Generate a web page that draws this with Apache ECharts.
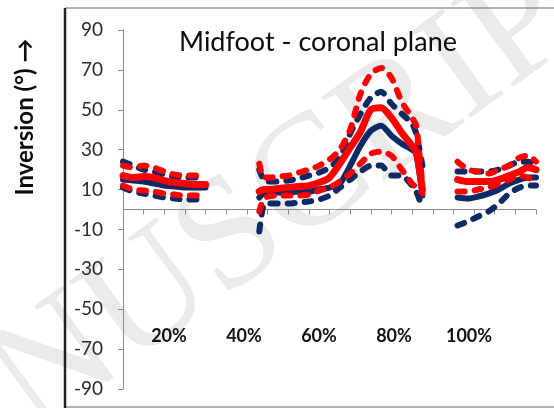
<!DOCTYPE html>
<html>
<head>
<meta charset="utf-8">
<script src="https://cdn.jsdelivr.net/npm/echarts@6/dist/echarts.min.js"></script>
<style>
  html, body { margin: 0; padding: 0; background: #fff; }
  #chart { width: 554px; height: 408px; }
</style>
</head>
<body>
<div id="chart"></div>
<script>
// % of stance, null = no data (gap between segments)
const pct = [0, 2.5, 5, 7.5, 10, 12.5, 15, 17.5, 20, 26,
  33, 34, 35, 37.5, 40, 42.5, 45, 47.5, 50, 52.5, 55, 57.5, 60, 62.5, 65, 67.5, 70, 71, 72.5, 77,
  81, 83.5, 86, 88.5, 91, 93.5, 96, 98, 100];

const blueMean = [15, 14.5, 14, 13, 12, 11.5, 11, 11, 11, null,
  6, 8, 8.5, 8.5, 8.5, 9, 9, 10, 11, 13, 22, 32, 39.5, 42, 37, 33, 30, 28, 7, null,
  6, 5.5, 6.5, 8, 10, 13, 15, 16, 16];
const blueUpper = [24, 22, 20, 19, 17.5, 16.5, 16, 16, 16, null,
  20, 15, 14, 14, 14.5, 15.5, 17, 18.5, 21, 26, 38, 48, 56, 59, 53, 48, 43, 38, 22, null,
  19, 19, 19, 19, 20, 22, 24, 24, 22];
const blueLower = [11, 9, 8, 7, 6, 5.5, 5, 5, 5, null,
  -11, 2, 3, 3, 3, 3.5, 4, 5, 7, 11, 15, 19, 22, 22, 17, 17, 12, 9, 1, null,
  -8, -6, -3.5, -1, 3, 8, 11, 12, 12];
const redMean = [17, 16, 16.5, 16, 14.5, 13.5, 13, 12.5, 12.5, null,
  9, 10, 10, 10.5, 11, 11.5, 12, 13.5, 16, 23, 31, 39, 50, 51, 46, 38.5, 32, 29, 10, null,
  15, 14, 14, 14, 15, 17, 19, 21, 20];
const redUpper = [22, 21, 22, 21, 19, 17.5, 17, 17, 17, null,
  23, 16, 16, 16.5, 17, 18.5, 20, 22, 25, 30, 40, 58, 68, 71, 66, 54, 46, 42, 12, null,
  24, 20, 19, 18, 20, 22, 26, 27, 24];
const redLower = [12, 10, 9.5, 9, 8, 7.5, 7, 7, 7, null,
  -1, 5, 6.5, 7, 7, 7, 7.5, 9.5, 11, 14, 18, 23, 28, 29, 27, 20, 13, 11, 8, null,
  9, 9, 10, 11, 13, 15, 17, 16, 14];

const yTickLabels = ['-90', '-70', '-50', '-30', '-10', '10', '30', '50', '70', '90'];
const xTickLabels = ['20%', '40%', '60%', '80%', '100%'];

const FONT = 'Lato, "Liberation Sans", sans-serif';
const NAVY = '#0c2a66';
const RED = '#ff0000';
const AXIS = '#8c8c8c';

function pts(vals) {
  return pct.map((p, i) => [p, vals[i] == null ? '-' : vals[i]]);
}

function line(name, vals, color, dashed, width) {
  return {
    name: name,
    type: 'line',
    data: pts(vals),
    showSymbol: false,
    symbol: 'none',
    smooth: 0.25,
    connectNulls: false,
    lineStyle: {
      color: color,
      width: width,
      type: dashed ? [7, 10] : 'solid',
      cap: 'round',
      join: 'round'
    },
    z: 3
  };
}

const chart = echarts.init(document.getElementById('chart'));

chart.setOption({
  animation: false,
  backgroundColor: '#fff',
  grid: [
    // plot area, -90..90
    { left: 123, right: 18, top: 30, bottom: 19 },
    // holder for the bold % labels
    { left: 94, width: 375, top: 300, height: 25 },
    // upper half of the plot: its bottom edge is the zero line
    { left: 123, right: 18, top: 30, height: 179.5 }
  ],
  xAxis: [
    {
      type: 'value', gridIndex: 0, min: 0, max: 100, show: false
    },
    {
      type: 'value', gridIndex: 1, min: 0, max: 100, interval: 20,
      axisLine: { show: false },
      axisTick: { show: false },
      splitLine: { show: false },
      axisLabel: {
        margin: 2,
        fontFamily: FONT, fontSize: 18, fontWeight: 'bold', color: '#111',
        formatter: v => (v > 0 ? xTickLabels[v / 20 - 1] : '')
      }
    },
    {
      type: 'value', gridIndex: 2, min: 0, max: 100, interval: 5, position: 'bottom',
      axisLine: { show: true, onZero: false, lineStyle: { color: AXIS, width: 1 } },
      axisTick: { show: true, length: 5, lineStyle: { color: AXIS } },
      axisLabel: { show: false },
      splitLine: { show: false }
    }
  ],
  yAxis: [
    {
      // data axis, drawn invisibly
      type: 'value', gridIndex: 0, min: -90, max: 90, position: 'left',
      axisLine: { show: false }, axisTick: { show: false },
      axisLabel: { show: false }, splitLine: { show: false }
    },
    {
      // label axis: same span, shifted so ticks land on -90, -70, ... 90
      type: 'value', gridIndex: 0, min: 0, max: 180, interval: 20, position: 'left',
      axisLine: { show: true, onZero: false, lineStyle: { color: AXIS, width: 1 } },
      axisTick: { show: true, length: 5, lineStyle: { color: AXIS } },
      splitLine: { show: false },
      axisLabel: {
        margin: 20,
        fontFamily: FONT, fontSize: 19, color: '#2b2b2b',
        formatter: v => yTickLabels[v / 20]
      }
    },
    { type: 'value', gridIndex: 1, min: 0, max: 1, show: false },
    { type: 'value', gridIndex: 2, min: 0, max: 90, show: false }
  ],
  graphic: [
    {
      type: 'text', x: 218, y: 250, rotation: 0.63, z: -1, silent: true,
      style: {
        text: 'MANUSCRIPT', fontFamily: '"Liberation Serif", serif', fontSize: 160,
        fill: '#eaeaea', align: 'center', verticalAlign: 'middle'
      }
    },
    {
      type: 'rect', shape: { x: 65, y: 8, width: 520, height: 399 },
      style: { fill: 'none', stroke: '#666', lineWidth: 1 }, silent: true
    },
    {
      type: 'line', shape: { x1: 65, y1: 8, x2: 65, y2: 408 },
      style: { stroke: '#222', lineWidth: 2.5 }, silent: true
    },
    {
      type: 'text', x: 318, y: 42,
      style: {
        text: 'Midfoot - coronal plane', fontFamily: FONT, fontSize: 27,
        fill: '#0d0d0d', align: 'center', verticalAlign: 'middle'
      }
    },
    {
      type: 'text', x: 25, y: 117, rotation: Math.PI / 2,
      style: {
        text: 'Inversion (°) →', fontFamily: FONT, fontSize: 24, fontWeight: 'bold',
        fill: '#0d0d0d', align: 'center', verticalAlign: 'middle'
      }
    }
  ],
  series: [
    line('Blue +SD', blueUpper, NAVY, true, 6),
    line('Blue -SD', blueLower, NAVY, true, 6),
    line('Blue mean', blueMean, NAVY, false, 6),
    line('Red +SD', redUpper, RED, true, 6),
    line('Red -SD', redLower, RED, true, 6),
    line('Red mean', redMean, RED, false, 7)
  ]
});
</script>
</body>
</html>
